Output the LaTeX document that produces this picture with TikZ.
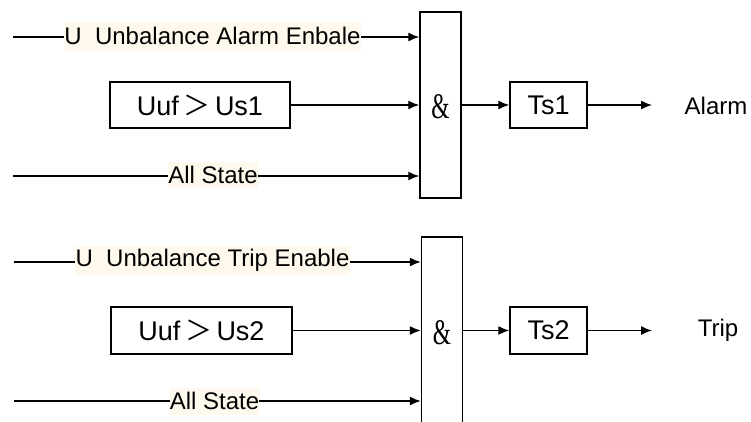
\documentclass[tikz,border=0pt]{standalone}
\usepackage{fontspec}
\setmainfont{Liberation Sans}
\newfontfamily\ampfont{Liberation Serif}
\newfontfamily\cjk{Noto Sans CJK SC}
\usetikzlibrary{arrows.meta}
\definecolor{cream}{HTML}{FFF8EC}
\begin{document}
\begin{tikzpicture}[x=1pt,y=-1pt,
  wire/.style={line width=1.3pt},
  conn/.style={line width=1.3pt, -{Latex[length=11pt,width=9pt]}},
  blk/.style={draw, line width=1.5pt, inner sep=0pt, font=\fontsize{27}{30}\selectfont},
  andg/.style={draw, line width=1.5pt, minimum width=41pt, inner sep=0pt, font=\ampfont\fontsize{36}{38}\selectfont},
  lbl/.style={fill=cream, inner sep=0pt, minimum height=29pt, font=\fontsize{24}{26}\selectfont},
  outlbl/.style={inner sep=0pt, font=\fontsize{24}{26}\selectfont}]
\useasboundingbox (0,0) rectangle (751,421);
\clip (0,0) rectangle (751,421);
% ---- top block ----
\node[andg, minimum height=186pt] (and1) at (440.5,105) {};
\node[andg, draw=none, minimum height=10pt] (amp1) at (440.5,107) {\scalebox{0.65}[1]{\&}};
\node[blk, minimum width=180pt, minimum height=46pt] (cmp1) at (200,105) {Uuf\,{\cjk ＞}\,Us1};
\node[blk, minimum width=77pt, minimum height=46pt] (ts1) at (548.5,105) {Ts1};
\node[outlbl] (alarm) at (716,106) {Alarm};
\coordinate (out1) at (652,105);
\coordinate (s11) at (13,37);
\coordinate (s13) at (13,176);
\node[lbl, minimum width=297pt] (l11) at (212.5,36) {U\ \ Unbalance Alarm Enbale};
\node[lbl, minimum width=90pt, minimum height=26pt] (l13) at (213,175) {All State};
\draw[wire] (s11) -- (s11 -| l11.west);
\draw[conn] (s11 -| l11.east) -- (s11 -| and1.west);
\draw[conn] (cmp1) -- (cmp1 -| and1.west);
\draw[conn] (ts1 -| and1.east) -- (ts1.west);
\draw[conn] (ts1) -- (out1);
\draw[wire] (s13) -- (s13 -| l13.west);
\draw[conn] (s13 -| l13.east) -- (s13 -| and1.west);
% ---- bottom block ----
\node[andg, minimum height=200pt] (and2) at (442,337) {};
\node[andg, draw=none, minimum height=10pt] (amp2) at (442,333) {\scalebox{0.65}[1]{\&}};
\node[blk, minimum width=181pt, minimum height=47pt] (cmp2) at (201.5,330.5) {Uuf\,{\cjk ＞}\,Us2};
\node[blk, minimum width=77pt, minimum height=47pt] (ts2) at (548.5,330.5) {Ts2};
\node[outlbl] (trip) at (718,330) {Trip};
\coordinate (out2) at (652,330.5);
\coordinate (s21) at (14,262);
\coordinate (s23) at (14,401);
\node[lbl, minimum width=275pt] (l21) at (212.5,260) {U\ \ Unbalance Trip Enable};
\node[lbl, minimum width=89pt, minimum height=27pt] (l23) at (214.5,401) {All State};
\draw[wire] (s21) -- (s21 -| l21.west);
\draw[conn] (s21 -| l21.east) -- (s21 -| and2.west);
\draw[conn] (cmp2) -- (cmp2 -| and2.west);
\draw[conn] (ts2 -| and2.east) -- (ts2.west);
\draw[conn] (ts2) -- (out2);
\draw[wire] (s23) -- (s23 -| l23.west);
\draw[conn] (s23 -| l23.east) -- (s23 -| and2.west);
\end{tikzpicture}
\end{document}
